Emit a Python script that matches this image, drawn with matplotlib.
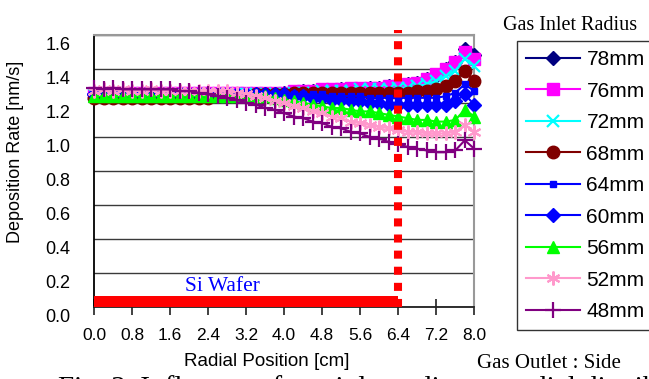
import matplotlib
matplotlib.use("Agg")
import matplotlib.pyplot as plt
import matplotlib.transforms as mtransforms

# ---------------- data ----------------
radial_cm = [0.0, 0.2, 0.4, 0.6, 0.8, 1.0, 1.2, 1.4, 1.6, 1.8,
             2.0, 2.2, 2.4, 2.6, 2.8, 3.0, 3.2, 3.4, 3.6, 3.8,
             4.0, 4.2, 4.4, 4.6, 4.8, 5.0, 5.2, 5.4, 5.6, 5.8,
             6.0, 6.2, 6.4, 6.6, 6.8, 7.0, 7.2, 7.4, 7.6, 7.8,
             8.0]

rate_78 = [1.25, 1.25, 1.25, 1.25, 1.25, 1.25, 1.25, 1.25, 1.25, 1.25,
           1.25, 1.25, 1.25, 1.25, 1.25, 1.25, 1.25, 1.25, 1.25, 1.25,
           1.26, 1.26, 1.27, 1.27, 1.27, 1.27, 1.28, 1.28, 1.28, 1.29,
           1.29, 1.30, 1.30, 1.31, 1.32, 1.34, 1.36, 1.40, 1.44, 1.52,
           1.48]
rate_76 = [1.26, 1.26, 1.26, 1.26, 1.26, 1.26, 1.26, 1.26, 1.26, 1.26,
           1.26, 1.26, 1.26, 1.26, 1.26, 1.26, 1.26, 1.26, 1.26, 1.26,
           1.26, 1.27, 1.27, 1.27, 1.28, 1.28, 1.28, 1.29, 1.29, 1.29,
           1.29, 1.30, 1.30, 1.31, 1.32, 1.34, 1.37, 1.40, 1.44, 1.50,
           1.46]
rate_72 = [1.25, 1.25, 1.25, 1.25, 1.25, 1.25, 1.25, 1.25, 1.25, 1.25,
           1.25, 1.25, 1.25, 1.25, 1.25, 1.25, 1.25, 1.25, 1.25, 1.25,
           1.25, 1.26, 1.26, 1.26, 1.27, 1.27, 1.27, 1.27, 1.28, 1.28,
           1.28, 1.28, 1.29, 1.29, 1.30, 1.31, 1.33, 1.36, 1.39, 1.46,
           1.42]
rate_68 = [1.23, 1.23, 1.23, 1.23, 1.23, 1.23, 1.23, 1.23, 1.23, 1.23,
           1.23, 1.23, 1.23, 1.24, 1.24, 1.24, 1.24, 1.25, 1.25, 1.25,
           1.25, 1.26, 1.26, 1.26, 1.26, 1.26, 1.26, 1.26, 1.26, 1.26,
           1.26, 1.26, 1.26, 1.26, 1.27, 1.27, 1.28, 1.30, 1.33, 1.39,
           1.33]
rate_64 = [1.25, 1.25, 1.25, 1.25, 1.25, 1.25, 1.25, 1.25, 1.25, 1.25,
           1.25, 1.25, 1.25, 1.25, 1.25, 1.25, 1.25, 1.25, 1.25, 1.25,
           1.25, 1.25, 1.25, 1.25, 1.25, 1.24, 1.24, 1.24, 1.24, 1.23,
           1.23, 1.23, 1.23, 1.23, 1.23, 1.23, 1.23, 1.24, 1.26, 1.31,
           1.27]
rate_60 = [1.25, 1.25, 1.25, 1.25, 1.25, 1.25, 1.25, 1.25, 1.25, 1.25,
           1.25, 1.25, 1.25, 1.25, 1.25, 1.25, 1.25, 1.25, 1.25, 1.25,
           1.25, 1.24, 1.24, 1.23, 1.23, 1.22, 1.22, 1.21, 1.21, 1.20,
           1.20, 1.19, 1.19, 1.19, 1.19, 1.19, 1.19, 1.19, 1.21, 1.25,
           1.19]
rate_56 = [1.24, 1.24, 1.24, 1.24, 1.24, 1.24, 1.24, 1.24, 1.24, 1.24,
           1.24, 1.24, 1.24, 1.24, 1.24, 1.24, 1.24, 1.24, 1.24, 1.23,
           1.22, 1.21, 1.20, 1.19, 1.18, 1.17, 1.17, 1.16, 1.15, 1.15,
           1.14, 1.13, 1.12, 1.11, 1.10, 1.10, 1.09, 1.09, 1.10, 1.16,
           1.12]
rate_52 = [1.27, 1.28, 1.27, 1.28, 1.27, 1.27, 1.28, 1.27, 1.27, 1.27,
           1.27, 1.27, 1.27, 1.27, 1.27, 1.26, 1.25, 1.24, 1.23, 1.21,
           1.20, 1.18, 1.17, 1.15, 1.14, 1.12, 1.11, 1.09, 1.08, 1.07,
           1.06, 1.05, 1.04, 1.03, 1.03, 1.02, 1.02, 1.02, 1.03, 1.07,
           1.03]
rate_48 = [1.29, 1.28, 1.29, 1.28, 1.28, 1.28, 1.28, 1.28, 1.28, 1.27,
           1.27, 1.26, 1.25, 1.24, 1.23, 1.22, 1.20, 1.19, 1.17, 1.16,
           1.14, 1.12, 1.11, 1.09, 1.08, 1.06, 1.05, 1.03, 1.02, 1.00,
           0.99, 0.97, 0.96, 0.94, 0.93, 0.92, 0.91, 0.91, 0.92, 0.98,
           0.93]

series_labels = ["78mm", "76mm", "72mm", "68mm", "64mm", "60mm", "56mm", "52mm", "48mm"]
series_values = [rate_78, rate_76, rate_72, rate_68, rate_64, rate_60, rate_56, rate_52, rate_48]

x_ticks = [0.0, 0.8, 1.6, 2.4, 3.2, 4.0, 4.8, 5.6, 6.4, 7.2, 8.0]
x_tick_labels = ["0.0", "0.8", "1.6", "2.4", "3.2", "4.0", "4.8", "5.6", "6.4", "7.2", "8.0"]
y_ticks = [0.0, 0.2, 0.4, 0.6, 0.8, 1.0, 1.2, 1.4, 1.6]
y_tick_labels = ["0.0", "0.2", "0.4", "0.6", "0.8", "1.0", "1.2", "1.4", "1.6"]

wafer_radius = 6.4
wafer_bar_height = 0.065
dashed_top = 1.63

# ---------------- styles ----------------
styles = [
    dict(color="#000080", marker="D", ms=7.5),
    dict(color="#FF00FF", marker="s", ms=9),
    dict(color="#00FFFF", marker="x", ms=9, mew=1.6),
    dict(color="#800000", marker="o", ms=9),
    dict(color="#0000FF", marker="s", ms=5),
    dict(color="#0000FF", marker="D", ms=7.5),
    dict(color="#00FF00", marker="^", ms=9),
    dict(color="#FF99CC", marker=(6, 2, 0), ms=10, mew=1.5),
    dict(color="#800080", marker="+", ms=11, mew=1.6),
]

SANS = ["Liberation Sans", "DejaVu Sans"]
SERIF = ["Liberation Serif", "DejaVu Serif"]

fig = plt.figure(figsize=(6.49, 3.79), dpi=100)
W, H = 649, 379
ax = fig.add_axes([94 / W, 1 - 306.7 / H, 380.3 / W, (306.7 - 35) / H])

handles = []
for lab, vals, st in zip(series_labels, series_values, styles):
    st = dict(st)
    mew = st.pop("mew", 1.0)
    ln, = ax.plot(radial_cm, vals, color=st["color"], marker=st["marker"],
                  markersize=st["ms"], markeredgewidth=mew, linewidth=1.5,
                  label=lab, clip_on=False, zorder=3)
    handles.append(ln)

# Si wafer bar
ax.barh(wafer_bar_height / 2, wafer_radius, height=wafer_bar_height, left=0,
        color="#FF0000", zorder=4, clip_on=False)
ax.text(2.7, 0.09, "Si Wafer", color="#0000FF", fontsize=15.5,
        family=SERIF, ha="center", va="baseline", zorder=5)

# dashed wafer edge line
ax.vlines(wafer_radius, 0, dashed_top, colors="#FF0000", linewidth=5.8,
          linestyles=(0, (1.0, 1.0)), zorder=6, clip_on=False)

ax.set_xlim(0, 8.0)
ax.set_ylim(0, 1.6)
ax.set_xticks(x_ticks)
ax.set_xticklabels(x_tick_labels, family=SANS, fontsize=12.5)
ax.set_yticks(y_ticks)
ax.set_yticklabels(y_tick_labels, family=SANS, fontsize=13)
ax.tick_params(axis="x", direction="inout", length=12, width=1.2, pad=9, color="#202020")
ax.tick_params(axis="y", direction="in", length=0, pad=17)
ax.grid(axis="y", color="#3a3a3a", linewidth=1.0, zorder=1)
ax.set_axisbelow(True)

for sp in ["top", "right"]:
    ax.spines[sp].set_color("#999999")
    ax.spines[sp].set_linewidth(1.5)
ax.spines["left"].set_color("#000000")
ax.spines["left"].set_linewidth(1.3)
ax.spines["bottom"].set_color("#202020")
ax.spines["bottom"].set_linewidth(1.3)

# y tick labels appear shifted down in the reference
shift = mtransforms.ScaledTranslation(0, -6.0 / 72, fig.dpi_scale_trans)
for lbl in ax.get_yticklabels():
    lbl.set_transform(lbl.get_transform() + shift)

# caption (clipped at the bottom)
fig.text(58 / W, -0.045, "Fig. 2  Influence of gas inlet radius on radial distribution",
         family=SERIF, fontsize=21, ha="left", va="baseline", zorder=1)

# axis labels
fig.text(16 / W, 1 - 151.5 / H, "Deposition Rate [nm/s]", rotation=90,
         family=SANS, fontsize=13, ha="center", va="center")
fig.text(267 / W, 1 - 362 / H, "Radial Position [cm]", family=SANS, fontsize=13.5,
         ha="center", va="center", zorder=5,
         bbox=dict(facecolor="white", edgecolor="none", pad=1))

fig.text(549 / W, 1 - 363 / H, "Gas Outlet : Side", family=SERIF, fontsize=15,
         ha="center", va="center", zorder=5,
         bbox=dict(facecolor="white", edgecolor="none", pad=0.5))

# legend
fig.text(570 / W, 1 - 25 / H, "Gas Inlet Radius", family=SERIF, fontsize=14.5,
         ha="center", va="center")
leg = fig.legend(handles=handles, labels=series_labels, loc="upper left",
                 bbox_to_anchor=(516.7 / W, 1 - 40.7 / H), frameon=True,
                 fancybox=False, shadow=False, prop=dict(family=SANS, size=15),
                 handlelength=2.6, handletextpad=0.3, labelspacing=0.6,
                 borderpad=0.45, borderaxespad=0)
leg.get_frame().set_edgecolor("#000000")
leg.get_frame().set_linewidth(1.0)

fig.savefig("out.png", dpi=100)
